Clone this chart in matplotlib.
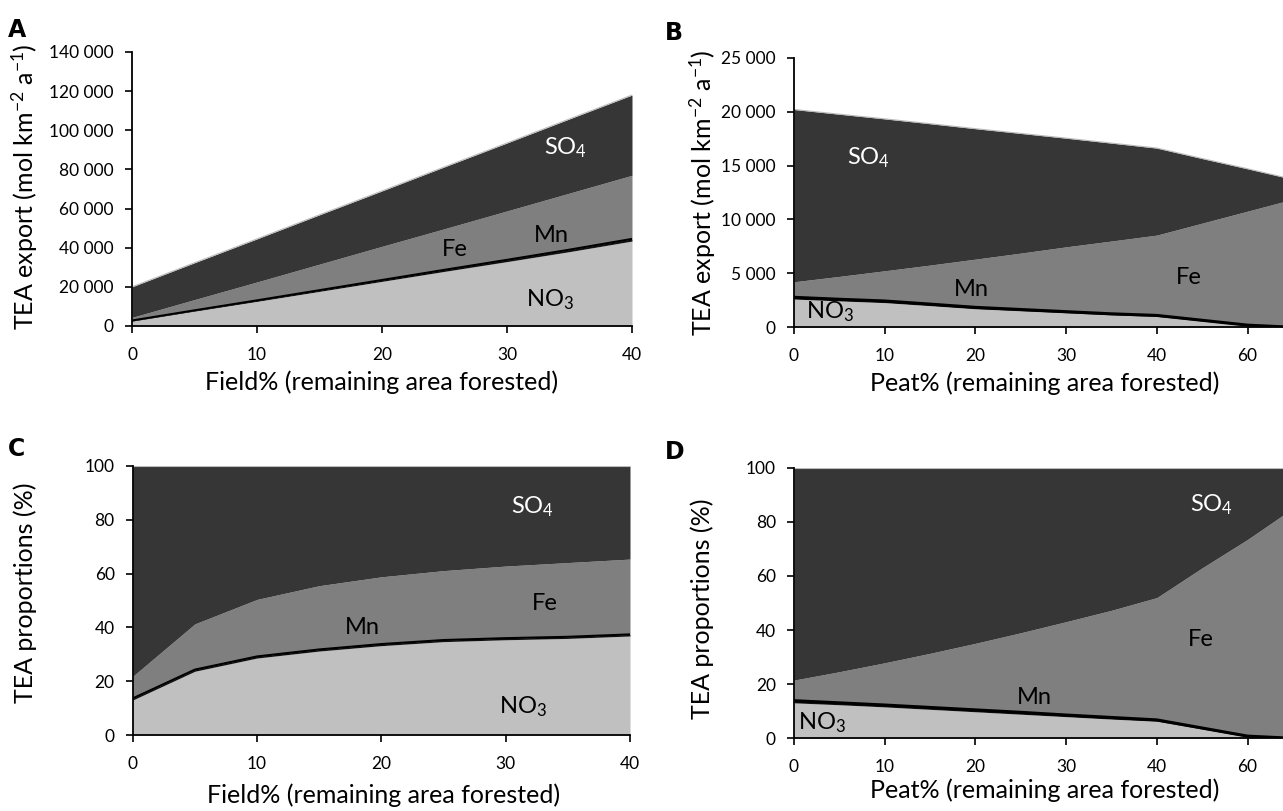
import matplotlib
matplotlib.use("Agg")
import matplotlib.pyplot as plt
from matplotlib.ticker import FuncFormatter
import numpy as np

plt.rcParams['font.family'] = ['Lato', 'DejaVu Sans']
plt.rcParams['mathtext.fontset'] = 'custom'
plt.rcParams['mathtext.rm'] = 'Lato'
plt.rcParams['mathtext.it'] = 'Lato:italic'
plt.rcParams['mathtext.bf'] = 'Lato:bold'

# field categories (A, C)
field_cats = [0, 5, 10, 15, 20, 25, 30, 35, 40]
# A: export, mol km-2 a-1, stacked layers
a_no3 = [2500, 7600, 12600, 17700, 22800, 27900, 32900, 38000, 43400]
a_mn = [300, 400, 500, 600, 700, 800, 900, 1000, 1100]
a_fe = [1600, 5500, 9400, 13300, 17200, 21000, 25000, 28900, 32500]
a_so4 = [15600, 18800, 22000, 25200, 28300, 31600, 34700, 37900, 41000]
# C: proportions, %
c_no3 = [13.0, 23.7, 28.6, 31.2, 33.2, 34.7, 35.4, 35.9, 36.8]
c_mn = [0.6, 0.6, 0.6, 0.6, 0.6, 0.6, 0.6, 0.6, 0.6]
c_fe = [8.2, 17.0, 21.2, 23.7, 25.0, 25.8, 26.8, 27.6, 28.0]
c_so4 = [78.2, 58.7, 49.6, 44.5, 41.2, 38.9, 37.2, 35.9, 34.6]

# peat categories (B, D)
peat_cats = [0, 5, 10, 15, 20, 25, 30, 35, 40, 50, 60, 70]
b_no3 = [2620, 2450, 2290, 2010, 1720, 1530, 1340, 1150, 1010, 580, 150, 0]
b_mn = [160, 150, 150, 140, 130, 120, 110, 100, 90, 70, 50, 0]
b_fe = [1440, 2120, 2800, 3620, 4470, 5230, 6010, 6750, 7450, 9010, 10570, 11880]
b_so4 = [15980, 15040, 14090, 13110, 12100, 11100, 10080, 9080, 8070, 5990, 3930, 1840]
d_no3 = [13.1, 12.4, 11.6, 10.7, 9.8, 8.9, 8.0, 7.1, 6.3, 3.4, 0.5, 0.0]
d_mn = [0.8, 0.7, 0.7, 0.7, 0.7, 0.7, 0.6, 0.6, 0.5, 0.4, 0.3, 0.0]
d_fe = [7.6, 11.5, 15.6, 20.0, 24.6, 29.4, 34.5, 39.6, 45.2, 59.2, 72.7, 85.0]
d_so4 = [78.5, 75.4, 72.1, 68.6, 64.9, 61.0, 56.9, 52.7, 48.0, 37.0, 26.5, 15.0]

col_no3 = '#c0c0c0'
col_mn = '#111111'
col_fe = '#7f7f7f'
col_so4 = '#363636'

W, H = 1283, 811
fig = plt.figure(figsize=(W / 100, H / 100), dpi=100)


def px_axes(x0, x1, ytop, ybot):
    return fig.add_axes([x0 / W, 1 - ybot / H, (x1 - x0) / W, (ybot - ytop) / H])


def stack(ax, x, no3, mn, fe, so4, lw=1.6):
    no3 = np.array(no3, float)
    mn = np.array(mn, float)
    fe = np.array(fe, float)
    so4 = np.array(so4, float)
    t1 = no3
    t2 = t1 + mn
    t3 = t2 + fe
    t4 = t3 + so4
    ax.fill_between(x, 0, t1, color=col_no3, lw=0)
    ax.fill_between(x, t1, t2, color=col_mn, lw=0)
    ax.fill_between(x, t2, t3, color=col_fe, lw=0)
    ax.fill_between(x, t3, t4, color=col_so4, lw=0)
    ax.plot(x, t2, color='black', lw=lw, solid_joinstyle='round')
    ax.plot(x, t4, color='#bbbbbb', lw=0.8)


def style(ax, xlab, ylab, xl, yl):
    for s in ['top', 'right']:
        ax.spines[s].set_visible(False)
    for s in ['left', 'bottom']:
        ax.spines[s].set_linewidth(1.3)
        ax.spines[s].set_zorder(5)
    ax.tick_params(direction='out', length=5, width=1.2, labelsize=12.5)
    ax.tick_params(axis='y', pad=8)
    ax.tick_params(axis='x', pad=10)
    ax.set_xlabel(xlab, fontsize=18, va='center')
    ax.set_ylabel(ylab, fontsize=18, va='center')
    ax.xaxis.set_label_coords(*xl)
    ax.yaxis.set_label_coords(*yl)


thou = FuncFormatter(lambda v, p: '0' if v == 0 else f"{int(v):,}".replace(",", " "))
export_lab = 'TEA export (mol km$^{-2}$ a$^{-1}$)'
prop_lab = 'TEA proportions (%)'

# Panel A
axA = px_axes(132, 632, 52, 326)
xf = np.arange(len(field_cats))
stack(axA, xf, a_no3, a_mn, a_fe, a_so4, lw=1.5)
axA.set_xlim(0, len(field_cats) - 1)
axA.set_ylim(0, 140000)
axA.set_yticks(np.arange(0, 140001, 20000))
axA.yaxis.set_major_formatter(thou)
axA.set_xticks(xf[::2])
axA.set_xticklabels([str(c) for c in field_cats[::2]])
style(axA, 'Field% (remaining area forested)', export_lab, (0.499, -0.204), (-0.214, 0.51))

# Panel B
axB = px_axes(794, 1283, 57.7, 327.3)
xp = np.arange(len(peat_cats))
stack(axB, xp, b_no3, b_mn, b_fe, b_so4, lw=2.2)
axB.set_xlim(0, 10.78)
axB.set_ylim(0, 25000)
axB.set_yticks(np.arange(0, 25001, 5000))
axB.yaxis.set_major_formatter(thou)
axB.set_xticks(xp[::2])
axB.set_xticklabels([str(c) for c in peat_cats[::2]])
style(axB, 'Peat% (remaining area forested)', export_lab, (0.512, -0.207), (-0.187, 0.5))

# Panel C
axC = px_axes(132.7, 630, 466, 735)
stack(axC, xf, c_no3, c_mn, c_fe, c_so4, lw=1.5)
axC.set_xlim(0, len(field_cats) - 1)
axC.set_ylim(0, 100)
axC.set_yticks(np.arange(0, 101, 20))
axC.set_xticks(xf[::2])
axC.set_xticklabels([str(c) for c in field_cats[::2]])
style(axC, 'Field% (remaining area forested)', prop_lab, (0.505, -0.223), (-0.2166, 0.53))

# Panel D
axD = px_axes(794, 1283, 467.7, 738.3)
stack(axD, xp, d_no3, d_mn, d_fe, d_so4, lw=2.2)
axD.set_xlim(0, 10.78)
axD.set_ylim(0, 100)
axD.set_yticks(np.arange(0, 101, 20))
axD.set_xticks(xp[::2])
axD.set_xticklabels([str(c) for c in peat_cats[::2]])
style(axD, 'Peat% (remaining area forested)', prop_lab, (0.512, -0.19), (-0.187, 0.48))

# layer labels (figure pixel positions)
labels = [
    ('SO$_4$', 565, 148, 'white'), ('Fe', 455, 250, 'black'), ('Mn', 551, 236, 'black'), ('NO$_3$', 550, 300, 'black'),
    ('SO$_4$', 868, 158, 'white'), ('Mn', 971, 290, 'black'), ('Fe', 1189, 277, 'black'), ('NO$_3$', 830, 312, 'black'),
    ('SO$_4$', 532, 507, 'white'), ('Fe', 545, 603, 'black'), ('Mn', 362, 628, 'black'), ('NO$_3$', 523, 707, 'black'),
    ('SO$_4$', 1211, 505, 'white'), ('Fe', 1201, 640, 'black'), ('Mn', 1034, 698, 'black'), ('NO$_3$', 822, 723, 'black'),
]
for txt, x, y, c in labels:
    fig.text(x / W, 1 - y / H, txt, color=c, fontsize=17, ha='center', va='center')

for letter, x, y in [('A', 8, 30), ('B', 665, 33), ('C', 8, 449), ('D', 665, 452)]:
    fig.text(x / W, 1 - y / H, letter, fontsize=17, fontweight='bold', family='DejaVu Sans',
             ha='left', va='center')

fig.savefig('out.png', dpi=100)
